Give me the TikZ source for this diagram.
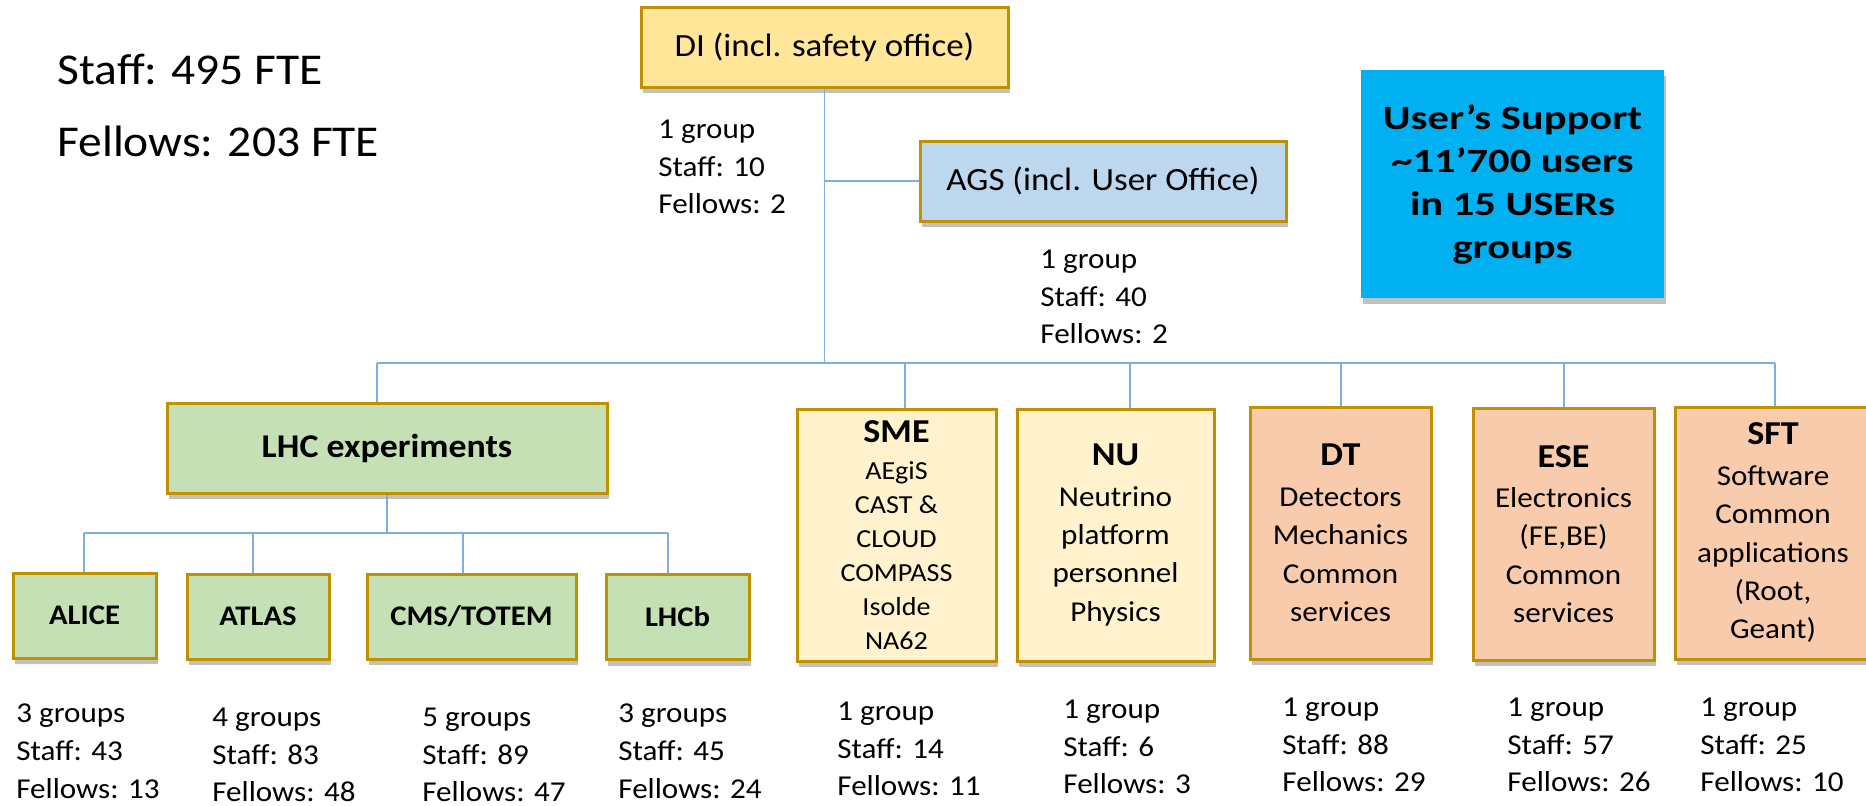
\documentclass[tikz,border=0pt]{standalone}
\usepackage{fontspec}
\setmainfont{Carlito}[FakeStretch=1.08]
\newfontfamily\usrfont{Carlito}[FakeStretch=1.25]
\usetikzlibrary{shadows}
\definecolor{gold}{HTML}{BF9000}
\definecolor{conncol}{HTML}{7DAEE0}
\definecolor{difill}{HTML}{FFE699}
\definecolor{agsfill}{HTML}{BDD7EE}
\definecolor{usrfill}{HTML}{00B0F0}
\definecolor{lhcfill}{HTML}{C5E0B4}
\definecolor{ylwfill}{HTML}{FFF2CC}
\definecolor{orgfill}{HTML}{F8CBAD}
\tikzset{
  shad/.style={drop shadow={shadow xshift=1pt,shadow yshift=-3pt,opacity=0.35,fill=black!70}},
  box/.style={draw=gold,line width=1.5pt,shad,inner sep=0pt,align=center},
  conn/.style={draw=conncol,line width=0.9pt},
  stats/.style={anchor=west,align=left,inner sep=0pt,font=\fontsize{14.4}{18.9}\selectfont},
}
\begin{document}
\begin{tikzpicture}[x=0.5pt,y=-0.5pt]
\useasboundingbox (0,0) rectangle (1866,805);

% top-left text
\node[anchor=west,align=left,inner sep=0pt,font=\fontsize{22}{36}\selectfont] (tot) at (57,105) {Staff: 495 FTE\\Fellows: 203 FTE};

% top boxes
\node[box,fill=difill,minimum width=183.5pt,minimum height=40pt,font=\fontsize{16.2}{20}\selectfont] (DI) at (824.5,47) {DI (incl. safety office)};
\node[box,fill=agsfill,minimum width=183pt,minimum height=40pt,font=\fontsize{16.2}{20}\selectfont] (AGS) at (1103,181) {AGS (incl. User Office)};
\node[fill=usrfill,shad,inner sep=0pt,align=center,minimum width=151.5pt,minimum height=114pt,font=\usrfont\fontsize{17}{21.5}\selectfont\bfseries] (USR) at (1512.5,184) {User’s Support\\\textasciitilde11’700 users\\in 15 USERs\\groups};

\node[stats] (sDI) at (658,167) {1 group\\Staff: 10\\Fellows: 2};
\node[stats] (sAGS) at (1040,297) {1 group\\Staff: 40\\Fellows: 2};

% LHC
\node[box,fill=lhcfill,minimum width=220pt,minimum height=45pt,font=\fontsize{16.6}{20}\selectfont\bfseries] (LHC) at (387,448) {LHC experiments};
\tikzset{sub/.style={box,fill=lhcfill,minimum height=42.5pt,font=\fontsize{14.2}{18}\selectfont\bfseries}}
\node[sub,minimum width=71.5pt] (ALICE) at (84.5,615.5) {ALICE};
\node[sub,minimum width=71pt] (ATLAS) at (258,616.5) {ATLAS};
\node[sub,minimum width=104.5pt] (CMS) at (471.5,616.5) {CMS/TOTEM};
\node[sub,minimum width=71.5pt] (LHCb) at (677.5,617) {LHCb};

% column boxes
\tikzset{col/.style={box,minimum height=126pt,font=\fontsize{14.4}{19.2}\selectfont},
  ttl/.style={}}
\newcommand{\coltitle}[1]{{\fontsize{16.7}{17}\selectfont\bfseries #1}}
\node[col,fill=ylwfill,minimum width=99.5pt,font=\fontsize{13}{17}\selectfont] (SME) at (896.5,535)
 {\coltitle{SME}\\[1.5pt]AEgiS\\CAST \&\\CLOUD\\COMPASS\\Isolde\\NA62};
\node[col,fill=ylwfill,minimum width=98.5pt] (NU) at (1115.5,535)
 {\coltitle{NU}\\[1pt]Neutrino\\platform\\personnel\\Physics};
\node[col,fill=orgfill,minimum width=90.5pt] (DT) at (1340.5,533)
 {\coltitle{DT}\\[1pt]Detectors\\Mechanics\\Common\\services};
\node[col,fill=orgfill,minimum width=90.5pt] (ESE) at (1563.5,534)
 {\coltitle{ESE}\\[1pt]Electronics\\(FE,BE)\\Common\\services};
\node[col,fill=orgfill,minimum width=98pt] (SFT) at (1773,533)
 {\coltitle{SFT}\\[1pt]Software\\Common\\applications\\(Root,\\Geant)};

% bottom stats
\node[stats] (sALICE) at (16,751) {3 groups\\Staff: 43\\Fellows: 13};
\node[stats] (sATLAS) at (212,755) {4 groups\\Staff: 83\\Fellows: 48};
\node[stats] (sCMS) at (422,755) {5 groups\\Staff: 89\\Fellows: 47};
\node[stats] (sLHCb) at (618,751) {3 groups\\Staff: 45\\Fellows: 24};
\node[stats] (sSME) at (837,749) {1 group\\Staff: 14\\Fellows: 11};
\node[stats] (sNU) at (1063,747) {1 group\\Staff: 6\\Fellows: 3};
\node[stats] (sDT) at (1282,745) {1 group\\Staff: 88\\Fellows: 29};
\node[stats] (sESE) at (1507,745) {1 group\\Staff: 57\\Fellows: 26};
\node[stats] (sSFT) at (1700,745) {1 group\\Staff: 25\\Fellows: 10};

% connectors
\coordinate (bL) at (377,363);
\coordinate (bR) at (1775,363);
\coordinate (dSME) at (905,363);
\coordinate (dNU) at (1130,363);
\coordinate (dDT) at (1341,363);
\coordinate (dESE) at (1564,363);
\coordinate (lbL) at (84,533);
\coordinate (lbR) at (668,533);
\coordinate (dATLAS) at (253,533);
\coordinate (dCMS) at (463,533);

\draw[conn] (DI.south) -- (DI.south |- bL);
\draw[conn] (DI.south |- AGS.west) -- (AGS.west);
\draw[conn] (bL) -- (bR);
\draw[conn] (bL) -- (bL |- LHC.north);
\draw[conn] (dSME) -- (dSME |- SME.north);
\draw[conn] (dNU) -- (dNU |- NU.north);
\draw[conn] (dDT) -- (dDT |- DT.north);
\draw[conn] (dESE) -- (dESE |- ESE.north);
\draw[conn] (bR) -- (bR |- SFT.north);

\draw[conn] (LHC.south) -- (LHC.south |- lbL);
\draw[conn] (lbL) -- (lbR);
\draw[conn] (lbL) -- (lbL |- ALICE.north);
\draw[conn] (dATLAS) -- (dATLAS |- ATLAS.north);
\draw[conn] (dCMS) -- (dCMS |- CMS.north);
\draw[conn] (lbR) -- (lbR |- LHCb.north);
\end{tikzpicture}
\end{document}
